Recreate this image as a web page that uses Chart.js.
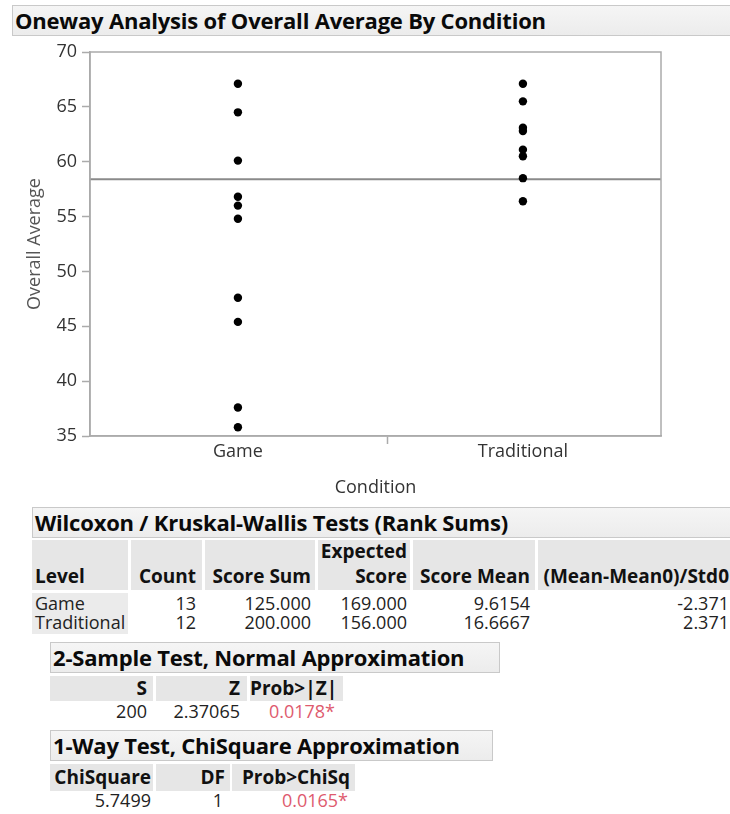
<!DOCTYPE html>
<html>
<head>
<meta charset="utf-8">
<script src="https://cdn.jsdelivr.net/npm/chart.js@4.4.1/dist/chart.umd.min.js"></script>
<style>
  html, body { margin:0; padding:0; background:#fff; width:730px; height:814px; overflow:hidden; }
  body { position:relative; font-family:"Open Sans", "Noto Sans", sans-serif; color:#222; }
  #chartBox { position:absolute; left:0; top:0; width:730px; height:505px; }
  .bar { position:absolute; box-sizing:border-box; border:1px solid #c9c9c9; background:linear-gradient(#f5f5f5,#ececec);
         font-weight:700; font-size:22px; color:#0a0a0a; white-space:nowrap; overflow:hidden; padding-left:2px; letter-spacing:-0.2px; }
  .cell { position:absolute; box-sizing:border-box; white-space:nowrap; overflow:visible; }
  .hdr { background:#e6e6e6; font-weight:700; font-size:19px; color:#111; }
  .dat { font-size:18px; line-height:19px; color:#222; }
  .lvl { background:#ebebeb; }
  .red { color:#de5a6e; }
</style>
</head>
<body>
<div class="bar" style="left:12px;top:5px;width:730px;height:31px;line-height:29px;">Oneway Analysis of Overall Average By Condition</div>
<div id="chartBox"><canvas id="c" width="730" height="505"></canvas></div>
<div id="tables"></div>
<script>
// ---------- data ----------
const categories = ['Game', 'Traditional'];
const gameValues = [67.1, 64.5, 60.1, 56.8, 56.0, 54.8, 47.6, 45.4, 37.6, 35.8];
const traditionalValues = [67.1, 65.5, 63.1, 62.8, 61.1, 60.5, 58.5, 56.4];
const grandMean = [58.4];
const yTickValues = [35, 40, 45, 50, 55, 60, 65, 70];

const wkTitle = 'Wilcoxon / Kruskal-Wallis Tests (Rank Sums)';
const wkHeaders = [['Level'], ['Count'], ['Score Sum'], ['Expected', 'Score'], ['Score Mean'], ['(Mean-Mean0)/Std0']];
const wkLevels = ['Game', 'Traditional'];
const wkCounts = ['13', '12'];
const wkScoreSums = ['125.000', '200.000'];
const wkExpected = ['169.000', '156.000'];
const wkScoreMeans = ['9.6154', '16.6667'];
const wkStd = ['-2.371', '2.371'];

const twoTitle = '2-Sample Test, Normal Approximation';
const twoHeaders = ['S', 'Z', 'Prob>|Z|'];
const twoValues = ['200', '2.37065', '0.0178*'];

const oneTitle = '1-Way Test, ChiSquare Approximation';
const oneHeaders = ['ChiSquare', 'DF', 'Prob>ChiSq'];
const oneValues = ['5.7499', '1', '0.0165*'];

// ---------- chart ----------
const xMin = -0.519, xMax = 1.4845, xDivider = 0.525;
const frame = {
  id: 'frame',
  afterDatasetsDraw(chart) {
    const a = chart.chartArea, ctx = chart.ctx;
    ctx.save();
    ctx.strokeStyle = '#ababab';
    ctx.lineWidth = 1.5;
    ctx.strokeRect(a.left, a.top, a.right - a.left, a.bottom - a.top);
    ctx.restore();
  }
};
new Chart(document.getElementById('c'), {
  type: 'scatter',
  data: {
    datasets: [
      { data: gameValues.map(v => ({ x: 0, y: v })), backgroundColor: '#000', borderWidth: 0, pointRadius: 4.2, order: 0 },
      { data: traditionalValues.map(v => ({ x: 1, y: v })), backgroundColor: '#000', borderWidth: 0, pointRadius: 4.2, order: 0 },
      { type: 'line', data: [{ x: xMin, y: grandMean[0] }, { x: xMax, y: grandMean[0] }], borderColor: '#8a8a8a', borderWidth: 2, pointRadius: 0, order: 1 }
    ]
  },
  options: {
    responsive: false, animation: false, devicePixelRatio: 1,
    layout: { padding: { top: 52, right: 69, left: 0, bottom: 0 } },
    plugins: { legend: { display: false }, tooltip: { enabled: false } },
    scales: {
      x: {
        type: 'linear', min: xMin, max: xMax,
        afterBuildTicks: s => { s.ticks = [{ value: 0 }, { value: xDivider }, { value: 1 }]; },
        afterFit: s => { s.height = 69; },
        ticks: { autoSkip: false, maxRotation: 0, padding: -3, color: '#333', font: { family: 'Open Sans', size: 18 },
                 callback: (v, i) => [categories[0], '', categories[1]][i] },
        grid: { drawOnChartArea: false, tickLength: 8, tickWidth: 1.5, tickColor: c => c.index === 1 ? '#ababab' : 'rgba(0,0,0,0)' },
        border: { color: '#ababab', width: 1.5 },
        title: { display: true, text: 'Condition', color: '#333', font: { family: 'Open Sans', size: 18 }, padding: { top: 0, bottom: 6 } }
      },
      y: {
        min: 35, max: 70,
        afterBuildTicks: s => { s.ticks = yTickValues.map(v => ({ value: v })); },
        afterFit: s => { s.width = 90; },
        ticks: { padding: 5, color: '#333', font: { family: 'Open Sans', size: 18 } },
        grid: { drawOnChartArea: false, tickLength: 8, tickWidth: 1.5, tickColor: '#ababab' },
        border: { color: '#ababab', width: 1.5 },
        title: { display: true, text: 'Overall Average', color: '#555', font: { family: 'Open Sans', size: 18 }, padding: { top: 24, bottom: 0 } }
      }
    }
  },
  plugins: [frame]
});

// ---------- tables ----------
const T = document.getElementById('tables');
function cell(x, y, w, h, cls, html, style) {
  const d = document.createElement('div');
  d.className = 'cell ' + cls;
  d.style.cssText = `left:${x}px;top:${y}px;width:${w}px;height:${h}px;` + (style || '');
  d.innerHTML = html;
  T.appendChild(d);
  return d;
}
function bar(x, y, w, h, text) {
  const d = document.createElement('div');
  d.className = 'bar';
  d.style.cssText = `left:${x}px;top:${y}px;width:${w}px;height:${h}px;line-height:${h - 2}px;`;
  d.textContent = text;
  T.appendChild(d);
}

// Wilcoxon table
bar(32, 507, 720, 31, wkTitle);
const wkColX = [32, 131, 205, 318, 413, 538];
const wkColW = [96, 71, 110, 92, 122, 200];
const wkPadR = [0, 6, 4, 3, 5, 9];
wkHeaders.forEach((lines, i) => {
  const align = i === 0 ? 'left' : 'right';
  cell(wkColX[i], 540, wkColW[i], 50, 'hdr',
       `<div style="position:absolute;bottom:1px;${i === 0 ? 'left:3px' : 'right:' + wkPadR[i] + 'px'};text-align:${align};line-height:25px;">${lines.join('<br>')}</div>`);
});
cell(32, 593, 96, 41, 'lvl', '');
const wkCols = [wkLevels, wkCounts, wkScoreSums, wkExpected, wkScoreMeans, wkStd];
wkLevels.forEach((_, r) => {
  wkCols.forEach((col, i) => {
    const st = i === 0 ? 'padding-left:3px;text-align:left;' : `padding-right:${wkPadR[i]}px;text-align:right;`;
    cell(wkColX[i], 594 + r * 19, wkColW[i], 19, 'dat', col[r], st);
  });
});

// 2-sample table
bar(50, 642, 450, 31, twoTitle);
const twoColX = [50, 156, 250], twoColW = [103, 91, 93], twoPadR = [6, 7, 6];
twoHeaders.forEach((t, i) => cell(twoColX[i], 676, twoColW[i], 25, 'hdr', t, `text-align:right;padding-right:${twoPadR[i]}px;line-height:25px;`));
twoValues.forEach((t, i) => cell(twoColX[i], 702, twoColW[i], 19, 'dat' + (i === 2 ? ' red' : ''), t, `text-align:right;padding-right:${twoPadR[i] + (i === 2 ? 2 : 0)}px;`));

// 1-way table
bar(50, 730, 443, 31, oneTitle);
const oneColX = [50, 156, 232], oneColW = [103, 74, 123], onePadR = [2, 5, 5];
oneHeaders.forEach((t, i) => cell(oneColX[i], 764, oneColW[i], 27, 'hdr', t, `text-align:right;padding-right:${onePadR[i]}px;line-height:27px;`));
oneValues.forEach((t, i) => cell(oneColX[i], 791, oneColW[i], 19, 'dat' + (i === 2 ? ' red' : ''), t, `text-align:right;padding-right:${onePadR[i] + (i === 0 ? 0 : 2)}px;`));
</script>
</body>
</html>
